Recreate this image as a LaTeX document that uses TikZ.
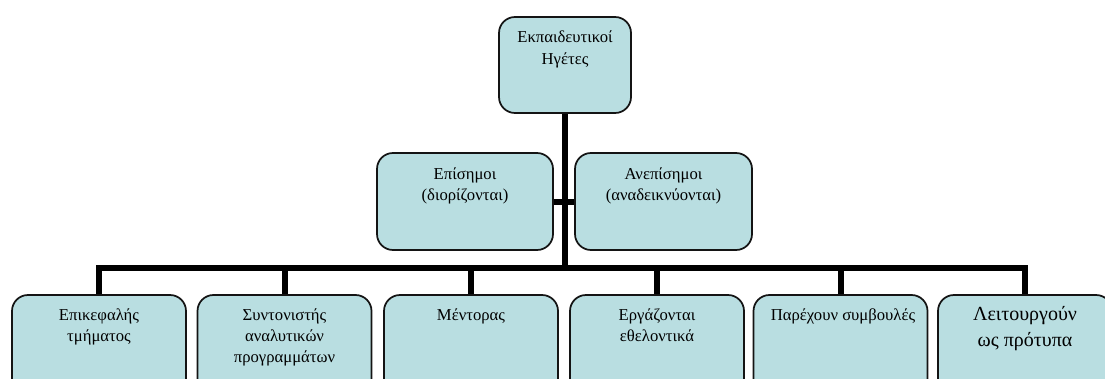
\documentclass[tikz,border=0pt]{standalone}
\usepackage{fontspec}
\setmainfont{Liberation Serif}
\usetikzlibrary{backgrounds}
\definecolor{boxfill}{RGB}{185,222,225}
\definecolor{boxline}{RGB}{20,20,20}
\tikzset{
  orgbox/.style={draw=boxline, fill=boxfill, line width=1.3pt, rounded corners=12pt, inner sep=0pt},
  bottombox/.style={orgbox, minimum width=130.5pt, minimum height=101.25pt},
  conn/.style={line width=4.5pt, black},
  lbl/.style={anchor=base, inner sep=0pt, font=\fontsize{12.5}{16}\selectfont},
  biglbl/.style={anchor=base, inner sep=0pt, font=\fontsize{15}{20}\selectfont},
}
\newcommand{\ptext}[2]{\parbox[t]{#1}{\centering #2}}
\begin{document}
\begin{tikzpicture}[x=0.75pt,y=-0.75pt]
\useasboundingbox (0,0) rectangle (1105,378);
\clip (0,0) rectangle (1105,378);
% top
\node[orgbox, minimum width=99pt, minimum height=72pt] (T) at (565,65) {};
\node[lbl] (tT) at (565,43) {\ptext{96pt}{Εκπαιδευτικοί\\Ηγέτες}};
% middle
\node[orgbox, minimum width=132pt, minimum height=72.75pt] (L) at (465,201.5) {};
\node[lbl] (tL) at (465,179) {\ptext{128pt}{Επίσημοι\\(διορίζονται)}};
\node[orgbox, minimum width=132.75pt, minimum height=72.75pt] (R) at (663.5,201.5) {};
\node[lbl] (tR) at (663.5,179) {\ptext{128pt}{Ανεπίσημοι\\(αναδεικνύονται)}};
% bottom
\node[bottombox] (b1) at (99,362.5) {};
\node[bottombox] (b2) at (284.5,362.5) {};
\node[bottombox] (b3) at (471,362.5) {};
\node[bottombox] (b4) at (657,362.5) {};
\node[bottombox] (b5) at (840.5,362.5) {};
\node[bottombox] (b6) at (1025,362.5) {};
\node[lbl] (t1) at (99,320) {\ptext{126pt}{Επικεφαλής\\τμήματος}};
\node[lbl] (t2) at (284.5,320) {\ptext{126pt}{Συντονιστής\\αναλυτικών\\προγραμμάτων}};
\node[lbl] (t3) at (471,320) {\ptext{126pt}{Μέντορας}};
\node[lbl] (t4) at (657,320) {\ptext{126pt}{Εργάζονται\\εθελοντικά}};
\node[lbl] (t5) at (843,320) {\ptext{128pt}{Παρέχουν συμβουλές}};
\node[biglbl] (t6) at (1025,320) {\ptext{126pt}{Λειτουργούν\\ως πρότυπα}};
% connectors
\coordinate (bus) at (565,268);
\begin{scope}[on background layer]
\draw[conn] (T.south) -- (bus);
\draw[conn] (L.east) -- (R.west);
\foreach \b in {b1,b2,b3,b4,b5,b6}
  \draw[conn] (\b.north) |- (bus);
\end{scope}
\end{tikzpicture}
\end{document}
